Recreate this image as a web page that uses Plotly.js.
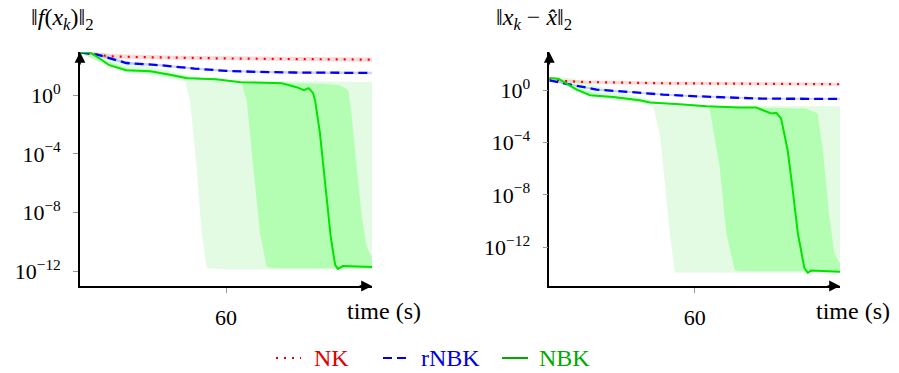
<!DOCTYPE html>
<html>
<head>
<meta charset="utf-8">
<script src="https://cdn.plot.ly/plotly-3.0.1.min.js"></script>
<style>
html, body { margin: 0; padding: 0; background: #fff; }
#chart { width: 899px; height: 373px; }
#chart svg text, #chart svg tspan { font-family: "Liberation Serif", "Noto Serif CJK SC", serif !important; }
</style>
</head>
<body>
<div id="chart"></div>
<script>
// ---------- Left panel: ||f(x_k)||_2 ----------
const T_NK_F  = [0, 5, 12, 25, 40, 60, 80, 100, 120];
const NK_F    = [851, 631, 457, 398, 355, 324, 302, 288, 269];
const NK_F_LO = [800, 450, 325, 283, 252, 230, 214, 204, 191];
const NK_F_HI = [900, 890, 645, 561, 500, 457, 426, 406, 379];

const T_RNBK_F  = [0, 8, 19, 33, 47, 60, 74, 88, 120];
const RNBK_F    = [851, 537, 158, 112, 66.1, 45.7, 38.9, 35.5, 33.1];
const RNBK_F_LO = [800, 446, 131, 93, 55, 38, 32.3, 29.5, 27.5];
const RNBK_F_HI = [900, 644, 190, 134, 79, 55, 46.7, 42.6, 39.7];

const T_NBK_F = [0, 4, 8, 12, 19, 29, 38, 44, 56, 66, 83, 89, 92, 94, 95.8, 96.6, 98.6, 100.7, 102.0, 103.0, 104.1, 104.9, 106, 108, 120];
const NBK_F   = [851, 851, 331, 112, 50.1, 43.7, 22.9, 14.5, 12.3, 7.76, 6.61, 3.55, 2.19, 3.02, 1.38, 0.457, 2.57e-3, 1e-6, 5.01e-9, 2.51e-10, 1.58e-11, 2.51e-12, 1.41e-12, 2.19e-12, 1.91e-12];

const T_OUT_F  = [0, 5, 10, 20, 28, 35, 42, 43.2, 45.2, 47.9, 50, 52.1, 60, 80, 100, 110, 120];
const OUT_F_HI = [933, 933, 794, 200, 100, 50.1, 28.2, 12.6, 10.5, 10.5, 10, 10, 10, 9.55, 8.91, 8.51, 8.13];
const OUT_F_LO = [708, 631, 126, 31.6, 28.2, 15.8, 10, 8.91, 0.457, 1.29e-5, 3.72e-10, 1.58e-12, 1.26e-12, 1.26e-12, 1.26e-12, 1.26e-12, 1.26e-12];

const T_IN_F  = [0, 10, 20, 30, 40, 50, 60, 66.4, 68.5, 71.2, 74, 76.7, 80, 100, 106.9, 110.3, 111.7, 113.7, 115.8, 117.8, 120];
const IN_F_HI = [891, 251, 63.1, 50.1, 25.1, 15.8, 11.2, 8.13, 7.94, 7.94, 7.59, 7.41, 7.08, 6.03, 4.79, 2.19, 0.0331, 1.29e-5, 5.01e-9, 4.57e-11, 7.94e-12];
const IN_F_LO = [759, 141, 39.8, 31.6, 15.8, 11.2, 8.32, 7.08, 0.457, 1.29e-5, 3.72e-10, 2.0e-12, 1.58e-12, 1.58e-12, 1.58e-12, 1.58e-12, 1.58e-12, 1.58e-12, 1.58e-12, 1.58e-12, 1.58e-12];

// ---------- Right panel: ||x_k - x̂||_2 ----------
const T_NK_X  = [0, 6, 15, 33, 50, 74, 100, 120];
const NK_X    = [7.76, 5.13, 4.27, 3.63, 3.39, 3.24, 3.02, 2.88];
const NK_X_LO = [7.0, 3.9, 3.25, 2.76, 2.58, 2.46, 2.3, 2.19];
const NK_X_HI = [8.5, 6.77, 5.64, 4.79, 4.47, 4.28, 3.99, 3.8];

const T_RNBK_X  = [0, 8.5, 19.5, 33, 47, 61, 74, 88, 120];
const RNBK_X    = [5.75, 2.88, 1.12, 0.741, 0.468, 0.347, 0.275, 0.229, 0.219];
const RNBK_X_LO = [4.9, 2.45, 0.95, 0.63, 0.398, 0.295, 0.234, 0.195, 0.186];
const RNBK_X_HI = [6.7, 3.37, 1.31, 0.867, 0.548, 0.406, 0.322, 0.268, 0.256];

const T_NBK_X = [0, 3.7, 7.2, 11.3, 16.8, 26.4, 37.4, 41.5, 53.8, 64.8, 78.5, 85.4, 91.6, 93.7, 95.7, 98.4, 100.5, 102.6, 105.3, 106.7, 108, 120];
const NBK_X   = [8.71, 7.76, 3.24, 1.12, 0.417, 0.309, 0.174, 0.115, 0.0851, 0.0603, 0.0479, 0.0479, 0.0166, 0.0186, 6.76e-3, 2.57e-5, 2.24e-8, 1.10e-11, 2.51e-14, 1.07e-14, 1.58e-14, 1.29e-14];

const T_OUT_X  = [0, 5, 10, 20, 28, 35, 42, 42.8, 45.6, 49.7, 51.8, 60, 80, 100, 120];
const OUT_X_HI = [9.55, 9.55, 7.94, 2.0, 0.794, 0.398, 0.178, 0.0708, 0.0631, 0.0631, 0.0631, 0.0631, 0.0631, 0.0603, 0.0603];
const OUT_X_LO = [7.94, 3.98, 1.0, 0.251, 0.178, 0.126, 0.0708, 0.0631, 5.01e-4, 1.26e-11, 1.12e-14, 1.07e-14, 1.07e-14, 1.07e-14, 1.07e-14];

const T_IN_X  = [0, 10, 20, 30, 40, 50, 60, 66.1, 70.3, 73.1, 76.5, 80, 100, 106, 110.8, 112.9, 115.6, 117.7, 120];
const IN_X_HI = [9.12, 2.0, 0.447, 0.302, 0.158, 0.107, 0.0794, 0.0631, 0.0562, 0.0537, 0.0525, 0.0501, 0.0447, 0.0398, 0.0166, 2.57e-5, 2.04e-10, 3.16e-13, 5.62e-14];
const IN_X_LO = [7.94, 1.26, 0.316, 0.209, 0.112, 0.0794, 0.0603, 0.0479, 1.38e-6, 1.10e-11, 1.74e-14, 1.41e-14, 1.41e-14, 1.41e-14, 1.41e-14, 1.41e-14, 1.41e-14, 1.41e-14, 1.41e-14];

// ---------- labels ----------
const SERIES = ['NK', 'rNBK', 'NBK'];
const Y_TICKVALS = [1, 1e-4, 1e-8, 1e-12];
const Y_TICKTEXT = ['10<sup>0</sup>', '10<sup>−4</sup>', '10<sup>−8</sup>', '10<sup>−12</sup>'];
const X_TICKVALS = [60];
const X_TICKTEXT = ['60'];
const TITLE_F = '‖<i>f</i>(<i>x</i><sub><i>k</i></sub>)‖<sub>2</sub>';
const TITLE_X = '‖<i>x</i><sub><i>k</i></sub> − <i>x̂</i>‖<sub>2</sub>';
const XLABEL = 'time (s)';

const C_RED = '#ff0000', C_BLUE = '#0000ff', C_GREEN = '#00e400';
const C_LEG = {NK: '#e00000', rNBK: '#0000e0', NBK: '#00aa00'};
const FONT = 'Liberation Serif, Noto Serif CJK SC, serif';

function makeBand(t, lo, hi, color, xa, ya) {
  return {x: t.concat(t.slice().reverse()), y: hi.concat(lo.slice().reverse()),
    xaxis: xa, yaxis: ya, mode: 'lines', fill: 'toself', fillcolor: color,
    line: {width: 0}, hoverinfo: 'skip', showlegend: false};
}
function makeLine(t, y, color, dash, width, xa, ya) {
  return {x: t, y: y, xaxis: xa, yaxis: ya, mode: 'lines',
    line: {color: color, dash: dash, width: width}, hoverinfo: 'skip', showlegend: false};
}

const traces = [
  makeBand(T_OUT_F, OUT_F_LO, OUT_F_HI, '#e3fbe3', 'x', 'y'),
  makeBand(T_IN_F, IN_F_LO, IN_F_HI, '#b3feb3', 'x', 'y'),
  makeBand(T_NK_F, NK_F_LO, NK_F_HI, 'rgba(255,0,0,0.15)', 'x', 'y'),
  makeBand(T_RNBK_F, RNBK_F_LO, RNBK_F_HI, 'rgba(0,0,255,0.18)', 'x', 'y'),
  makeLine(T_NK_F, NK_F, C_RED, '2px,6px', 2.2, 'x', 'y'),
  makeLine(T_RNBK_F, RNBK_F, C_BLUE, '9px,5px', 2.3, 'x', 'y'),
  makeLine(T_NBK_F, NBK_F, C_GREEN, 'solid', 2, 'x', 'y'),

  makeBand(T_OUT_X, OUT_X_LO, OUT_X_HI, '#e3fbe3', 'x2', 'y2'),
  makeBand(T_IN_X, IN_X_LO, IN_X_HI, '#b3feb3', 'x2', 'y2'),
  makeBand(T_NK_X, NK_X_LO, NK_X_HI, 'rgba(255,0,0,0.15)', 'x2', 'y2'),
  makeBand(T_RNBK_X, RNBK_X_LO, RNBK_X_HI, 'rgba(0,0,255,0.18)', 'x2', 'y2'),
  makeLine(T_NK_X, NK_X, C_RED, '2px,6px', 2.2, 'x2', 'y2'),
  makeLine(T_RNBK_X, RNBK_X, C_BLUE, '9px,5px', 2.3, 'x2', 'y2'),
  makeLine(T_NBK_X, NBK_X, C_GREEN, 'solid', 2, 'x2', 'y2')
];

const W = 899, H = 373;
const yDom = [(H - 286) / H, (H - 52) / H];
function xaxisCfg(dom, anchor) {
  return {domain: dom, anchor: anchor, range: [0, 120], showgrid: false, zeroline: false,
    showline: true, linecolor: '#000', linewidth: 1.6,
    ticks: 'outside', ticklen: 5, tickwidth: 1, tickcolor: '#999',
    tickvals: X_TICKVALS, ticktext: X_TICKTEXT, ticklabelstandoff: 6,
    tickfont: {family: FONT, size: 22, color: '#000'}, fixedrange: true};
}
function yaxisCfg(range, anchor) {
  return {domain: yDom, type: 'log', range: range, anchor: anchor, showgrid: false, zeroline: false,
    showline: true, linecolor: '#000', linewidth: 1.6,
    ticks: 'outside', ticklen: 5, tickwidth: 1, tickcolor: '#999',
    tickvals: Y_TICKVALS, ticktext: Y_TICKTEXT, ticklabelstandoff: 8,
    tickfont: {family: FONT, size: 22, color: '#000'}, fixedrange: true};
}

const xd1 = [80 / W, 372 / W], xd2 = [549.3 / W, 840 / W];
function arrowAnn(xp, yp, ax, ay) {
  return {xref: 'paper', yref: 'paper', x: xp, y: yp, ax: ax, ay: ay, axref: 'pixel', ayref: 'pixel',
    text: '', showarrow: true, arrowhead: 2, arrowsize: 1.35, arrowwidth: 1.6, arrowcolor: '#000'};
}
function txtAnn(px, py, text, color, anchor, size) {
  return {xref: 'paper', yref: 'paper', x: px / W, y: 1 - py / H, text: text, showarrow: false,
    xanchor: anchor || 'left', yanchor: 'middle', font: {family: FONT, size: size || 24, color: color || '#000'}};
}

const annotations = [
  arrowAnn(xd1[1], yDom[0], -14, 0), arrowAnn(xd1[0], yDom[1], 0, 14),
  arrowAnn(xd2[1], yDom[0], -14, 0), arrowAnn(xd2[0], yDom[1], 0, 14),
  txtAnn(29, 19, TITLE_F), txtAnn(494, 19, TITLE_X),
  txtAnn(384, 311, XLABEL, '#000', 'center'), txtAnn(853, 311, XLABEL, '#000', 'center'),
  txtAnn(312, 358, SERIES[0], C_LEG.NK), txtAnn(419, 358, SERIES[1], C_LEG.rNBK), txtAnn(537, 358, SERIES[2], C_LEG.NBK)
];
function legLine(x0, x1, color, dash) {
  return {type: 'line', xref: 'paper', yref: 'paper', x0: x0 / W, x1: x1 / W, y0: 1 - 358 / H, y1: 1 - 358 / H,
    line: {color: color, dash: dash, width: 2}};
}
const shapes = [
  legLine(276, 301, C_LEG.NK, '2px,6px'),
  legLine(383, 408, C_LEG.rNBK, '9px,5px'),
  legLine(502, 528, C_LEG.NBK, 'solid')
];

const layout = {
  width: W, height: H, margin: {l: 0, r: 0, t: 0, b: 0},
  paper_bgcolor: '#fff', plot_bgcolor: 'rgba(0,0,0,0)', showlegend: false,
  font: {family: FONT, size: 22, color: '#000'},
  xaxis: xaxisCfg(xd1, 'y'),
  yaxis: yaxisCfg([-13.02, 2.95], 'x'),
  xaxis2: xaxisCfg(xd2, 'y2'),
  yaxis2: yaxisCfg([-14.98, 2.93], 'x2'),
  annotations: annotations, shapes: shapes
};

Plotly.newPlot('chart', traces, layout, {displayModeBar: false});
</script>
</body>
</html>
